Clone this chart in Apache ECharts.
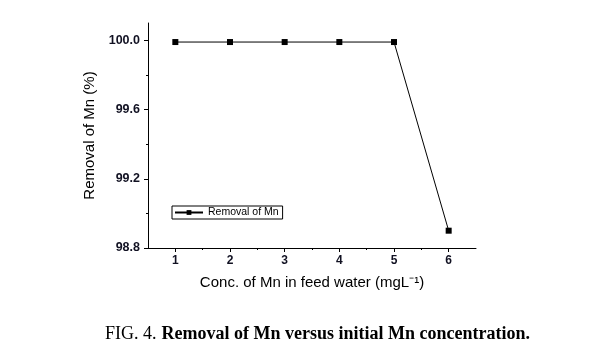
<!DOCTYPE html>
<html>
<head>
<meta charset="utf-8">
<script src="https://cdn.jsdelivr.net/npm/echarts@6/dist/echarts.min.js"></script>
<style>html,body{margin:0;padding:0;background:#fff}#c{width:604px;height:361px}</style>
</head>
<body>
<div id="c"></div>
<script>
const concentrations = [1, 2, 3, 4, 5, 6];
const removal = [99.99, 99.99, 99.99, 99.99, 99.99, 98.90];
const xTicks = [1, 2, 3, 4, 5, 6];
const xMinorTicks = [1.5, 2.5, 3.5, 4.5, 5.5];
const yTicks = [98.8, 99.2, 99.6, 100.0];
const yMinorTicks = [99.0, 99.4, 99.8];
const seriesName = 'Removal of Mn';
const xTitle = 'Conc. of Mn in feed water (mgL\u207B\u00B9)';
const yTitle = 'Removal of Mn (%)';
const captionPrefix = 'FIG. 4.';
const captionText = 'Removal of Mn versus initial Mn concentration.';

const chart = echarts.init(document.getElementById('c'), null, {renderer: 'canvas'});
const axisFont = 'Arial, "Liberation Sans", sans-serif';
const serif = '"Liberation Serif", "Times New Roman", serif';
const labelColor = '#111122';
chart.setOption({
  animation: false,
  backgroundColor: '#fff',
  title: {
    text: '{a|' + captionPrefix + '} {b|' + captionText + '}',
    left: 100, top: 320,
    textStyle: {
      fontWeight: 'normal',
      rich: {
        a: {fontFamily: serif, fontSize: 18, fontWeight: 'normal', color: '#000'},
        b: {fontFamily: serif, fontSize: 18, fontWeight: 'bold', color: '#000'}
      }
    }
  },
  legend: {
    data: [seriesName],
    left: 172, top: 206,
    orient: 'horizontal',
    borderColor: '#000', borderWidth: 1, borderRadius: 0,
    padding: [1, 4, 1, 2],
    itemWidth: 28, itemHeight: 6, itemGap: 4,
    textStyle: {fontFamily: axisFont, fontSize: 10.5, color: '#000'}
  },
  grid: {left: 148, right: 128, top: 23, bottom: 113},
  xAxis: [{
    type: 'value', min: 0.5, max: 6.5,
    name: xTitle, nameLocation: 'middle', nameGap: 27,
    nameTextStyle: {fontFamily: axisFont, fontSize: 15, color: '#000'},
    axisLine: {show: true, onZero: false, lineStyle: {color: '#000', width: 1}},
    axisTick: {show: true, length: 4, customValues: xTicks, lineStyle: {color: '#000'}},
    axisLabel: {customValues: xTicks, margin: 7, fontFamily: axisFont, fontSize: 12, fontWeight: 'bold', color: labelColor},
    splitLine: {show: false}
  }, {
    type: 'value', min: 0.5, max: 6.5, position: 'bottom',
    axisLine: {show: false},
    axisTick: {show: true, length: 2, customValues: xMinorTicks, lineStyle: {color: '#000'}},
    axisLabel: {show: false},
    splitLine: {show: false}
  }],
  yAxis: [{
    type: 'value', min: 98.8, max: 100.1,
    name: yTitle, nameLocation: 'middle', nameGap: 51,
    nameTextStyle: {fontFamily: axisFont, fontSize: 15, color: '#000'},
    axisLine: {show: true, onZero: false, lineStyle: {color: '#000', width: 1}},
    axisTick: {show: true, length: 4, customValues: yTicks, lineStyle: {color: '#000'}},
    axisLabel: {customValues: yTicks, margin: 8, fontFamily: axisFont, fontSize: 12.5, fontWeight: 'bold', color: labelColor,
      formatter: v => v.toFixed(1)},
    splitLine: {show: false}
  }, {
    type: 'value', min: 98.8, max: 100.1, position: 'left',
    axisLine: {show: false},
    axisTick: {show: true, length: 2, customValues: yMinorTicks, lineStyle: {color: '#000'}},
    axisLabel: {show: false},
    splitLine: {show: false}
  }],
  series: [{
    name: seriesName,
    type: 'line',
    xAxisIndex: 0, yAxisIndex: 0,
    data: concentrations.map((c, i) => [c, removal[i]]),
    symbol: 'rect', symbolSize: 6,
    lineStyle: {color: '#000', width: 1},
    itemStyle: {color: '#000'}
  }]
});
</script>
</body>
</html>
